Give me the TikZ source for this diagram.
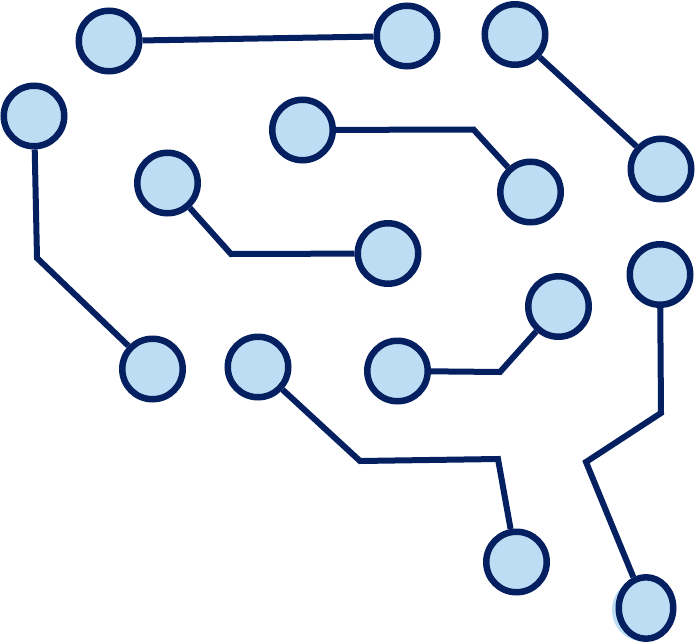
\documentclass[tikz,border=0pt]{standalone}
\usetikzlibrary{shapes.geometric}
\definecolor{navy}{RGB}{4,32,96}
\definecolor{dotfill}{RGB}{189,221,244}
\tikzset{
  dot/.style={circle,draw=navy,fill=dotfill,line width=6.5pt,inner sep=0pt,minimum size=60.5pt},
  wire/.style={draw=navy,line width=6pt,line join=miter}
}
\begin{document}
\begin{tikzpicture}[x=1pt,y=-1pt]
\useasboundingbox (0,0) rectangle (697,643);
% nodes
\node[dot] (n1) at (109,41) {};
\node[dot] (n2) at (407,36) {};
\node[dot] (n3) at (515,34.5) {};
\node[dot] (n4) at (34,116) {};
\node[dot] (n5) at (302.5,130) {};
\node[dot] (n6) at (167.5,183) {};
\node[dot] (n7) at (530.5,192) {};
\node[dot] (n8) at (661,169) {};
\node[dot] (n9) at (388,253.5) {};
\node[dot] (n10) at (660,274.5) {};
\node[dot] (n11) at (558.5,306.5) {};
\node[dot] (n12) at (152.5,369) {};
\node[dot] (n13) at (258,367) {};
\node[dot] (n14) at (397.5,371) {};
\node[dot] (n15) at (516.5,562) {};
\fill[dotfill] (642,610) ellipse [x radius=30, y radius=31];
\node[ellipse,draw=navy,line width=6.5pt,inner sep=0pt,minimum width=54.5pt,minimum height=61.5pt] (n16) at (646,608) {};
% bend points
\coordinate (b4) at (37,258);
\coordinate (b5) at (473.5,129.5);
\coordinate (b6) at (231,254);
\coordinate (b14) at (500,372);
\coordinate (b13a) at (360,461);
\coordinate (b13b) at (498,459);
\coordinate (b10a) at (661,413);
\coordinate (b10b) at (586,462);
% connectors
\path[wire] (n1) -- (n2);
\path[wire] (n3) -- (n8);
\path[wire] (n4) -- (b4) -- (n12);
\path[wire] (n5) -- (b5) -- (n7);
\path[wire] (n6) -- (b6) -- (n9);
\path[wire] (n14) -- (b14) -- (n11);
\path[wire] (n13) -- (b13a) -- (b13b) -- (n15);
\path[wire] (n10) -- (b10a) -- (b10b) -- (n16);
\end{tikzpicture}
\end{document}
